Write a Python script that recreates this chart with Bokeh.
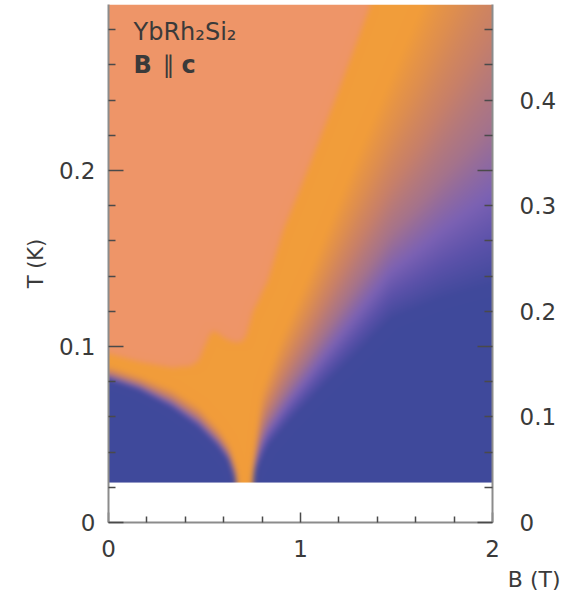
import numpy as np
from bokeh.plotting import figure
from bokeh.models import Range1d, LinearAxis, FixedTicker, Label, Title, PrintfTickFormatter
from bokeh.embed import file_html
from bokeh.resources import INLINE

# ---------------- axis values ----------------
B_TICKS = [0, 1, 2]
B_MINOR = [0.2, 0.4, 0.6, 0.8, 1.2, 1.4, 1.6, 1.8]
T_TICKS = [0, 0.1, 0.2]
T_MINOR = [0.02, 0.04, 0.06, 0.08, 0.12, 0.14, 0.16, 0.18, 0.22, 0.24, 0.26, 0.28]
R_TICKS = [0, 0.1, 0.2, 0.3, 0.4]

T_TOP = 0.2943         # top of the T axis (K)
T_LOW = 0.0227         # lowest measured temperature (K)
R_PER_T = 1 / 0.6      # right-hand scale relative to T

# ---------------- crossover lines ----------------
# lower edge of the salmon region (T above this line is salmon)
SAL_B = [0, 0.17, 0.33, 0.43, 0.47, 0.50, 0.53, 0.55, 0.60, 0.66, 0.70, 0.72, 0.75, 0.78, 0.83, 0.91, 1.015, 1.18, 1.365, 2.0]
SAL_T = [0.096, 0.091, 0.088, 0.089, 0.092, 0.100, 0.107, 0.109, 0.105, 0.102, 0.103, 0.107, 0.119, 0.126, 0.1375, 0.166, 0.194, 0.24, 0.294, 0.47]

# lower edge of the pure orange (exponent ~1) region
ORA_B = [0, 0.17, 0.33, 0.47, 0.57, 0.625, 0.665, 0.69, 0.72, 0.745, 0.77, 0.80, 0.90, 1.04, 1.30, 1.63, 2.0]
ORA_T = [0.089, 0.083, 0.076, 0.066, 0.054, 0.045, 0.032, 0.0, 0.0, 0.02, 0.05, 0.075, 0.105, 0.14, 0.21, 0.294, 0.40]

# upper edge of the blue (exponent ~2, Fermi liquid) region
BLU_B = [0, 0.16, 0.33, 0.47, 0.57, 0.625, 0.66, 0.68, 0.725, 0.745, 0.76, 0.83, 0.95, 1.12, 1.30, 1.47, 1.73, 2.0]
BLU_T = [0.081, 0.075, 0.065, 0.054, 0.043, 0.035, 0.024, 0.0, 0.0, 0.012, 0.028, 0.043, 0.058, 0.077, 0.096, 0.115, 0.126, 0.134]

# colour scale: 0 = orange, 1 = blue
CMAP_F = [0.0, 0.25, 0.45, 0.65, 0.80, 0.90, 1.0]
CMAP_R = [242, 222, 200, 165, 124, 92, 64]
CMAP_G = [157, 142, 128, 115, 98, 82, 73]
CMAP_BL = [58, 80, 105, 140, 180, 170, 155]
SALMON = (238, 149, 104)

# ---------------- build the colour map image ----------------
FRAME_W, FRAME_H = 384, 518
nx = FRAME_W
ny = int(round((T_TOP - T_LOW) / T_TOP * FRAME_H))
Bc = (np.arange(nx) + 0.5) / nx * 2.0
Tc = T_LOW + (np.arange(ny) + 0.5) / ny * (T_TOP - T_LOW)

Ts = np.interp(Bc, SAL_B, SAL_T)[None, :]
To = np.interp(Bc, ORA_B, ORA_T)[None, :]
Tb = np.interp(Bc, BLU_B, BLU_T)[None, :]
TT = Tc[:, None]

f = np.clip((To - TT) / np.maximum(To - Tb, 1e-6), 0, 1)
R = np.interp(f, CMAP_F, CMAP_R)
G = np.interp(f, CMAP_F, CMAP_G)
Bl = np.interp(f, CMAP_F, CMAP_BL)
sal = TT > Ts
R = np.where(sal, SALMON[0], R)
G = np.where(sal, SALMON[1], G)
Bl = np.where(sal, SALMON[2], Bl)


def blur(a, s=2.8):
    r = int(3 * s)
    k = np.exp(-0.5 * (np.arange(-r, r + 1) / s) ** 2)
    k /= k.sum()
    p0 = np.pad(a, ((r, r), (0, 0)), mode="edge")
    a = sum(k[i] * p0[i:i + a.shape[0], :] for i in range(2 * r + 1))
    p1 = np.pad(a, ((0, 0), (r, r)), mode="edge")
    a = sum(k[i] * p1[:, i:i + a.shape[1]] for i in range(2 * r + 1))
    return a


img = np.empty((ny, nx), dtype=np.uint32)
view = img.view(dtype=np.uint8).reshape((ny, nx, 4))
view[:, :, 0] = np.clip(blur(R), 0, 255).astype(np.uint8)
view[:, :, 1] = np.clip(blur(G), 0, 255).astype(np.uint8)
view[:, :, 2] = np.clip(blur(Bl), 0, 255).astype(np.uint8)
view[:, :, 3] = 255

# ---------------- figure ----------------
FONT = "DejaVu Sans"
TXT = "#3a3a3a"
AX = "#8c8c8c"
TK = "#4a4a4a"

p = figure(frame_width=FRAME_W, frame_height=FRAME_H,
           x_range=Range1d(0, 2), y_range=Range1d(0, T_TOP),
           output_backend="svg", toolbar_location=None, title=None,
           min_border_left=108, min_border_right=76, min_border_top=4,
           min_border_bottom=78, outline_line_color=None,
           background_fill_color="white", border_fill_color="white")
p.extra_y_ranges = {"r": Range1d(0, T_TOP * R_PER_T)}
p.xgrid.visible = False
p.ygrid.visible = False

p.image_rgba(image=[img], x=0, y=T_LOW, dw=2, dh=T_TOP - T_LOW)


def style(ax, major_in, minor_in, standoff):
    ax.major_tick_in = major_in
    ax.major_tick_out = 0
    ax.minor_tick_in = minor_in
    ax.minor_tick_out = 0
    ax.axis_line_color = AX
    ax.axis_line_width = 2
    ax.major_tick_line_color = TK
    ax.minor_tick_line_color = TK
    ax.major_tick_line_width = 1.5
    ax.minor_tick_line_width = 1.5
    ax.major_label_text_font = FONT
    ax.major_label_text_font_size = "23px"
    ax.major_label_text_color = TXT
    ax.major_label_standoff = standoff
    ax.formatter = PrintfTickFormatter(format="%g")


xa = p.xaxis[0]
xa.ticker = FixedTicker(ticks=B_TICKS, minor_ticks=B_MINOR)
style(xa, 10, 6, 17)

ya = p.yaxis[0]
ya.ticker = FixedTicker(ticks=T_TICKS, minor_ticks=T_MINOR)
style(ya, 15, 7, 13)
ya.axis_label = "T (K)"
ya.axis_label_text_font = FONT
ya.axis_label_text_font_size = "21px"
ya.axis_label_text_font_style = "normal"
ya.axis_label_text_color = TXT
ya.axis_label_standoff = 8

# mirrored ticks on the right frame edge
ra = LinearAxis(ticker=FixedTicker(ticks=T_TICKS, minor_ticks=T_MINOR))
style(ra, 15, 8, 0)
ra.major_label_text_font_size = "0px"
ra.major_label_text_alpha = 0
p.add_layout(ra, "right")

# right-hand scale
rb = LinearAxis(y_range_name="r", ticker=FixedTicker(ticks=R_TICKS, minor_ticks=[]))
style(rb, 0, 0, 27)
rb.axis_line_color = None
rb.major_tick_line_color = None
rb.minor_tick_line_color = None
p.add_layout(rb, "right")

# field axis title, placed at the lower right like the original
p.add_layout(Title(text="B (T)", align="right", offset=-68, standoff=13,
                   text_font=FONT, text_font_size="22px", text_font_style="normal",
                   text_color=TXT, vertical_align="middle"), "below")

# ---------------- text inside the frame ----------------
def lab(x, y, text, style="normal", size="24px", **kw):
    p.add_layout(Label(x=x, y=y, x_units="screen", y_units="screen", text=text,
                       text_font=FONT, text_font_size=size, text_color=TXT,
                       text_font_style=style, **kw))


lab(25, 477, "YbRh\u2082Si\u2082")
lab(25, 444, "B", "bold")
lab(54, 444, "\u2225")
lab(73, 444, "c", "bold")

open("out.html", "w").write(file_html(p, INLINE))
